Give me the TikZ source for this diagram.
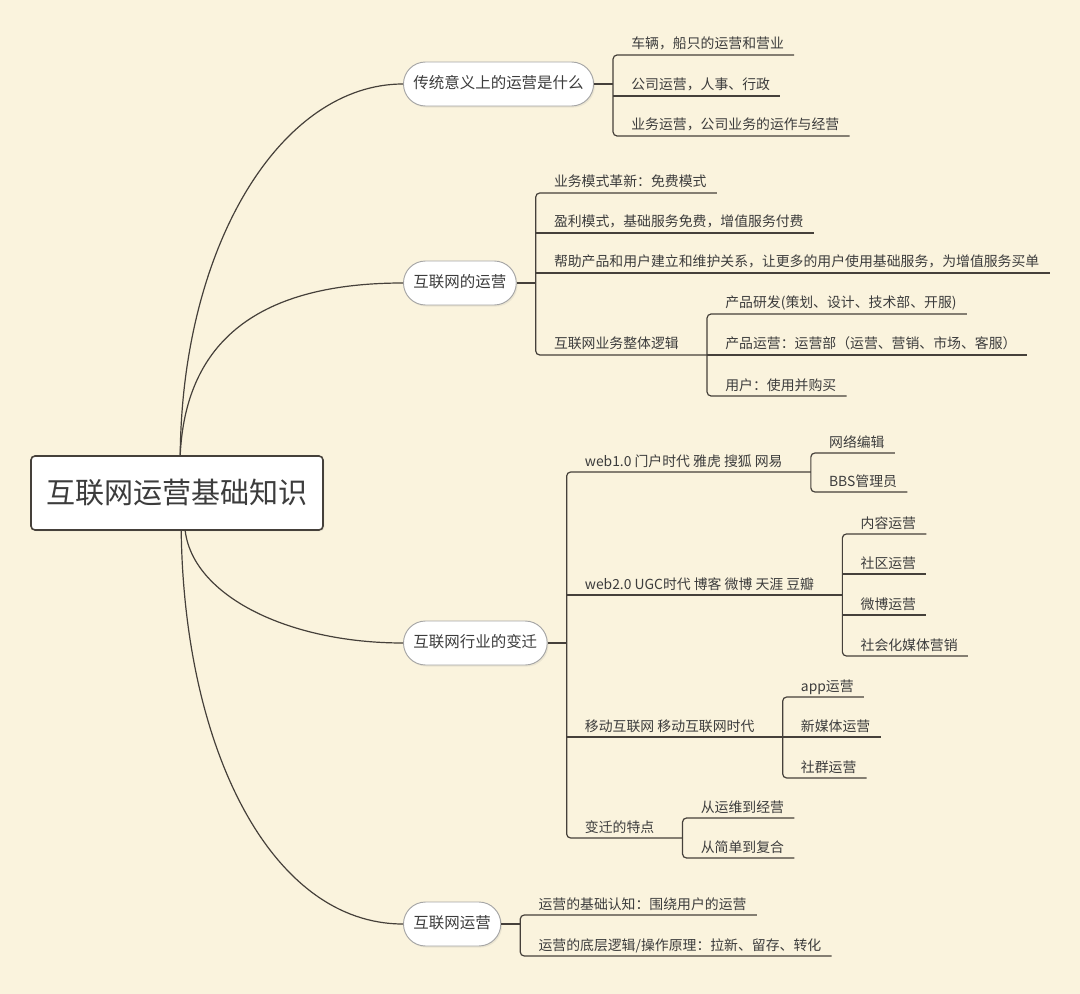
\documentclass[tikz,border=0pt]{standalone}
\usepackage{fontspec}
\newfontfamily\cjk{Noto Sans CJK SC}
\usetikzlibrary{calc,shadows}
\definecolor{bgc}{HTML}{FAF3DD}
\definecolor{lnc}{HTML}{45403A}
\definecolor{txc}{HTML}{3C3C3C}
\definecolor{nbc}{HTML}{A5A5A5}
\begin{document}
\begin{tikzpicture}[x=0.75pt,y=-0.75pt,
  conn/.style={draw=lnc, line width=0.9pt},
  rootbox/.style={draw=lnc, line width=1.2pt, fill=white, rounded corners=3pt,
    minimum width=219pt, minimum height=55.5pt, text=txc,
    font=\cjk\fontsize{21.8}{26}\selectfont,
    drop shadow={opacity=0.12, shadow xshift=1pt, shadow yshift=-1pt}},
  topic/.style={draw=nbc, line width=0.7pt, fill=white, rounded corners=16.5pt,
    minimum height=33pt, inner xsep=7.5pt, inner ysep=0pt, anchor=west,
    text height=9.3pt, text depth=2.3pt, text=txc,
    font=\cjk\fontsize{11.6}{14}\selectfont,
    drop shadow={opacity=0.12, shadow xshift=1pt, shadow yshift=-1.2pt}},
  leaf/.style={inner xsep=0pt, inner ysep=3pt, anchor=south west,
    text height=9.2pt, text depth=1.3pt, text=txc,
    font=\cjk\fontsize{10.4}{12.5}\selectfont}
]
\useasboundingbox (0,0) rectangle (1080,994);
\fill[bgc] (0,0) rectangle (1080,994);

% root and main topics
\node[rootbox] (root) at (177,493) {互联网运营基础知识};
\node[topic] (t1) at (403,84) {传统意义上的运营是什么};
\node[topic] (t2) at (403,283) {互联网的运营};
\node[topic] (t3) at (403,643) {互联网行业的变迁};
\node[topic] (t4) at (403,924) {互联网运营};

\coordinate (rtop) at ($(root.north west)+(150,0)$);
\coordinate (rbot) at ($(root.south west)+(151,0)$);
\coordinate (rbot2) at ($(root.south west)+(155,0)$);

\begin{scope}[on background layer/.style={}]
\draw[conn] (rtop) .. controls +(2,-212) and +(-121,0) .. (t1.west);
\draw[conn] (rtop) .. controls +(5,-107) and +(-153,0) .. (t2.west);
\draw[conn] (rbot2) .. controls +(8,65) and +(-115,0) .. (t3.west);
\draw[conn] (rbot) .. controls +(3,220) and +(-131,0) .. (t4.west);
\end{scope}

% ---------- group 1
\coordinate (b1) at ($(t1.east)+(19,0)$);
\node[leaf] (l11) at ($(b1|-0,55)+(18,0)$) {车辆，船只的运营和营业};
\node[leaf] (l12) at ($(b1|-0,96)+(18,0)$) {公司运营，人事、行政};
\node[leaf] (l13) at ($(b1|-0,136)+(18,0)$) {业务运营，公司业务的运作与经营};
\draw[conn] (t1.east) -- (b1);
\draw[conn, rounded corners=3pt] ($(l11.south east)+(10,0)$) -- (l11.south west -| b1)
  -- (l13.south west -| b1) -- ($(l13.south east)+(10,0)$);
\draw[conn] (l12.south west -| b1) -- ($(l12.south east)+(10,0)$);

% ---------- group 2
\coordinate (b2) at ($(t2.east)+(19,0)$);
\node[leaf] (l21) at ($(b2|-0,193)+(18,0)$) {业务模式革新：免费模式};
\node[leaf] (l22) at ($(b2|-0,233)+(18,0)$) {盈利模式，基础服务免费，增值服务付费};
\node[leaf] (l23) at ($(b2|-0,273)+(18,0)$) {帮助产品和用户建立和维护关系，让更多的用户使用基础服务，为增值服务买单};
\node[leaf] (l24) at ($(b2|-0,355)+(18,0)$) {互联网业务整体逻辑};
\coordinate (b24) at ($(l24.south east)+(28,0)$);
\node[leaf] (l241) at ($(b24|-0,314)+(18,0)$) {产品研发(策划、设计、技术部、开服)};
\node[leaf] (l242) at ($(b24|-0,355)+(18,0)$) {产品运营：运营部（运营、营销、市场、客服）};
\node[leaf] (l243) at ($(b24|-0,396)+(18,0)$) {用户：使用并购买};
\draw[conn] (t2.east) -- (b2);
\draw[conn, rounded corners=3pt] ($(l21.south east)+(10,0)$) -- (l21.south west -| b2)
  -- (l24.south west -| b2) -- (b24);
\draw[conn] (l22.south west -| b2) -- ($(l22.south east)+(10,0)$);
\draw[conn] (l23.south west -| b2) -- ($(l23.south east)+(10,0)$);
\draw[conn, rounded corners=3pt] ($(l241.south east)+(10,0)$) -- (l241.south west -| b24)
  -- (l243.south west -| b24) -- ($(l243.south east)+(10,0)$);
\draw[conn] (b24) -- ($(l242.south east)+(10,0)$);

% ---------- group 3
\coordinate (b3) at ($(t3.east)+(19,0)$);
\node[leaf] (l31) at ($(b3|-0,472)+(18,0)$) {web1.0 门户时代 雅虎 搜狐 网易};
\node[leaf] (l32) at ($(b3|-0,595)+(18,0)$) {web2.0 UGC时代 博客 微博 天涯 豆瓣};
\node[leaf] (l33) at ($(b3|-0,737)+(18,0)$) {移动互联网 移动互联网时代};
\node[leaf] (l34) at ($(b3|-0,838)+(18,0)$) {变迁的特点};
\draw[conn] (t3.east) -- (b3);
\coordinate (b31) at ($(l31.south east)+(28,0)$);
\coordinate (b32) at ($(l32.south east)+(28,0)$);
\coordinate (b33) at ($(l33.south east)+(28,0)$);
\coordinate (b34) at ($(l34.south east)+(28,0)$);
\draw[conn, rounded corners=3pt] (b31) -- (l31.south west -| b3)
  -- (l34.south west -| b3) -- (b34);
\draw[conn] (l32.south west -| b3) -- (b32);
\draw[conn] (l33.south west -| b3) -- (b33);

\node[leaf] (l311) at ($(b31|-0,453)+(18,0)$) {网络编辑};
\node[leaf] (l312) at ($(b31|-0,492)+(18,0)$) {BBS管理员};
\draw[conn, rounded corners=3pt] ($(l311.south east)+(10,0)$) -- (l311.south west -| b31)
  -- (l312.south west -| b31) -- ($(l312.south east)+(10,0)$);

\node[leaf] (l321) at ($(b32|-0,534)+(18,0)$) {内容运营};
\node[leaf] (l322) at ($(b32|-0,574)+(18,0)$) {社区运营};
\node[leaf] (l323) at ($(b32|-0,615)+(18,0)$) {微博运营};
\node[leaf] (l324) at ($(b32|-0,656)+(18,0)$) {社会化媒体营销};
\draw[conn, rounded corners=3pt] ($(l321.south east)+(10,0)$) -- (l321.south west -| b32)
  -- (l324.south west -| b32) -- ($(l324.south east)+(10,0)$);
\draw[conn] (l322.south west -| b32) -- ($(l322.south east)+(10,0)$);
\draw[conn] (l323.south west -| b32) -- ($(l323.south east)+(10,0)$);

\node[leaf] (l331) at ($(b33|-0,697)+(18,0)$) {app运营};
\node[leaf] (l332) at ($(b33|-0,737)+(18,0)$) {新媒体运营};
\node[leaf] (l333) at ($(b33|-0,778)+(18,0)$) {社群运营};
\draw[conn, rounded corners=3pt] ($(l331.south east)+(10,0)$) -- (l331.south west -| b33)
  -- (l333.south west -| b33) -- ($(l333.south east)+(10,0)$);
\draw[conn] (b33) -- ($(l332.south east)+(10,0)$);

\node[leaf] (l341) at ($(b34|-0,818)+(18,0)$) {从运维到经营};
\node[leaf] (l342) at ($(b34|-0,858)+(18,0)$) {从简单到复合};
\draw[conn, rounded corners=3pt] ($(l341.south east)+(10,0)$) -- (l341.south west -| b34)
  -- (l342.south west -| b34) -- ($(l342.south east)+(10,0)$);

% ---------- group 4
\coordinate (b4) at ($(t4.east)+(19,0)$);
\node[leaf] (l41) at ($(b4|-0,915)+(18,0)$) {运营的基础认知：围绕用户的运营};
\node[leaf] (l42) at ($(b4|-0,956)+(18,0)$) {运营的底层逻辑/操作原理：拉新、留存、转化};
\draw[conn] (t4.east) -- (b4);
\draw[conn, rounded corners=3pt] ($(l41.south east)+(10,0)$) -- (l41.south west -| b4)
  -- (l42.south west -| b4) -- ($(l42.south east)+(10,0)$);
\end{tikzpicture}
\end{document}
